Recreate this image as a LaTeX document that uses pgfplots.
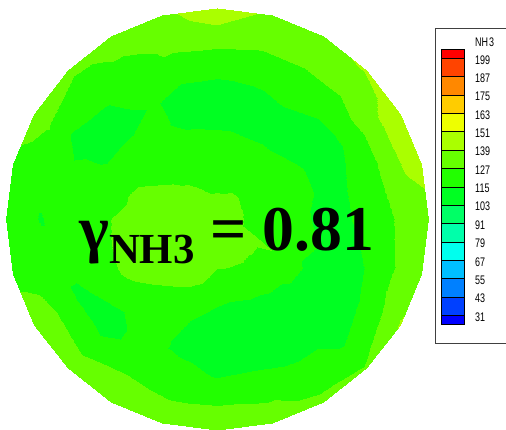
\documentclass[border=0pt]{standalone}
\usepackage{pgfplots}
\usepackage{pgfplotstable}
\pgfplotsset{compat=1.18}
\usepackage{fontspec}
\setmainfont{Liberation Serif}
\newfontfamily\legfont{Liberation Sans}
\usepackage{graphicx}

\definecolor{c0}{RGB}{0,0,255}
\definecolor{c1}{RGB}{0,64,255}
\definecolor{c2}{RGB}{0,128,255}
\definecolor{c3}{RGB}{0,191,255}
\definecolor{c4}{RGB}{0,255,238}
\definecolor{c5}{RGB}{0,255,170}
\definecolor{c6}{RGB}{0,255,102}
\definecolor{c7}{RGB}{0,255,34}
\definecolor{c8}{RGB}{34,255,0}
\definecolor{c9}{RGB}{102,255,0}
\definecolor{c10}{RGB}{170,255,0}
\definecolor{c11}{RGB}{238,255,0}
\definecolor{c12}{RGB}{255,204,0}
\definecolor{c13}{RGB}{255,136,0}
\definecolor{c14}{RGB}{255,68,0}
\definecolor{c15}{RGB}{255,0,0}

% polar grid: r (fraction of radius), t (angle, deg), v (NH3 value)
\pgfplotstableread{
r t v
0 0 132
0.2 0 124
0.35 0 120
0.5 0 112
0.62 0 114
0.74 0 122
0.84 0 127
0.92 0 131
1.0 0 134
0 15 132
0.2 15 124
0.35 15 120
0.5 15 114
0.62 15 114
0.74 15 121
0.84 15 131
0.92 15 140
1.0 15 143
0 30 132
0.2 30 124
0.35 30 120
0.5 30 114
0.62 30 111
0.74 30 118
0.84 30 132
0.92 30 141
1.0 30 145
0 45 132
0.2 45 125
0.35 45 119
0.5 45 111
0.62 45 111
0.74 45 120
0.84 45 128
0.92 45 133
1.0 45 140
0 60 132
0.2 60 125
0.35 60 118
0.5 60 111
0.62 60 115
0.74 60 120
0.84 60 128
0.92 60 133
1.0 60 137
0 75 132
0.2 75 124
0.35 75 118
0.5 75 111
0.62 75 113
0.74 75 120
0.84 75 128
0.92 75 134
1.0 75 137
0 90 132
0.2 90 124
0.35 90 119
0.5 90 111
0.62 90 112
0.74 90 120
0.84 90 130
0.92 90 139
1.0 90 145
0 105 132
0.2 105 124
0.35 105 120
0.5 105 112
0.62 105 112
0.74 105 120
0.84 105 129
0.92 105 134
1.0 105 137
0 120 132
0.2 120 126
0.35 120 121
0.5 120 116
0.62 120 116
0.74 120 121
0.84 120 123
0.92 120 129
1.0 120 133
0 135 132
0.2 135 128
0.35 135 121
0.5 135 119
0.62 135 111
0.74 135 114
0.84 135 121
0.92 135 123
1.0 135 131
0 150 132
0.2 150 132
0.35 150 126
0.5 150 121
0.62 150 112
0.74 150 111
0.84 150 117
0.92 150 128
1.0 150 132
0 165 132
0.2 165 133
0.35 165 131
0.5 165 124
0.62 165 121
0.74 165 119
0.84 165 121
0.92 165 122
1.0 165 124
0 180 132
0.2 180 134
0.35 180 131
0.5 180 127
0.62 180 121
0.74 180 120
0.84 180 114
0.92 180 121
1.0 180 124
0 195 132
0.2 195 134
0.35 195 132
0.5 195 128
0.62 195 121
0.74 195 120
0.84 195 121
0.92 195 122
1.0 195 124
0 210 132
0.2 210 134
0.35 210 132
0.5 210 129
0.62 210 120
0.74 210 112
0.84 210 123
0.92 210 131
1.0 210 133
0 225 132
0.2 225 133
0.35 225 131
0.5 225 124
0.62 225 115
0.74 225 111
0.84 225 120
0.92 225 128
1.0 225 133
0 240 132
0.2 240 132
0.35 240 128
0.5 240 121
0.62 240 120
0.74 240 121
0.84 240 126
0.92 240 132
1.0 240 134
0 255 132
0.2 255 131
0.35 255 126
0.5 255 115
0.62 255 112
0.74 255 118
0.84 255 123
0.92 255 130
1.0 255 134
0 270 132
0.2 270 130
0.35 270 118
0.5 270 111
0.62 270 110
0.74 270 114
0.84 270 122
0.92 270 131
1.0 270 138
0 285 132
0.2 285 130
0.35 285 117
0.5 285 111
0.62 285 110
0.74 285 115
0.84 285 121
0.92 285 129
1.0 285 134
0 300 132
0.2 300 130
0.35 300 118
0.5 300 111
0.62 300 110
0.74 300 112
0.84 300 120
0.92 300 123
1.0 300 131
0 315 132
0.2 315 129
0.35 315 120
0.5 315 111
0.62 315 110
0.74 315 111
0.84 315 114
0.92 315 121
1.0 315 128
0 330 132
0.2 330 129
0.35 330 126
0.5 330 112
0.62 330 111
0.74 330 112
0.84 330 120
0.92 330 129
1.0 330 140
0 345 132
0.2 345 124
0.35 345 121
0.5 345 115
0.62 345 112
0.74 345 116
0.84 345 125
0.92 345 130
1.0 345 134
0 360 132
0.2 360 124
0.35 360 120
0.5 360 112
0.62 360 114
0.74 360 122
0.84 360 127
0.92 360 131
1.0 360 134
}\disk

\begin{document}
\begin{tikzpicture}
\begin{axis}[
  width=506bp, height=430bp, scale only axis,
  xmin=0, xmax=506, ymin=0, ymax=430,
  hide axis, clip=false,
  colormap={tec}{rgb255(0cm)=(0,0,255) rgb255(1cm)=(0,64,255) rgb255(2cm)=(0,128,255)
    rgb255(3cm)=(0,191,255) rgb255(4cm)=(0,255,238) rgb255(5cm)=(0,255,170)
    rgb255(6cm)=(0,255,102) rgb255(7cm)=(0,255,34) rgb255(8cm)=(34,255,0)
    rgb255(9cm)=(102,255,0) rgb255(10cm)=(170,255,0) rgb255(11cm)=(238,255,0)
    rgb255(12cm)=(255,204,0) rgb255(13cm)=(255,136,0) rgb255(14cm)=(255,68,0)
    rgb255(15cm)=(255,0,0) rgb255(16cm)=(255,0,0)},
  colormap access=piecewise constant,
  point meta min=19, point meta max=211,
]
\addplot[surf, shader=interp, mesh/rows=25, mesh/cols=9, point meta=explicit]
  table[x expr={217+211*\thisrow{r}*cos(\thisrow{t})},
        y expr={211+211*\thisrow{r}*sin(\thisrow{t})}, meta=v] {\disk};

% legend frame
\addplot[draw=black!75, line width=0.8pt, mark=none] coordinates {(512,401.7) (435.5,401.7) (435.5,86.7) (512,86.7)};
% legend swatches
\addplot[fill=c15, draw=black, line width=0.6pt, mark=none] coordinates {(441,371.7) (464,371.7) (464,380.7) (441,380.7)} --cycle;
\addplot[fill=c14, draw=black, line width=0.6pt, mark=none] coordinates {(441,353.34) (464,353.34) (464,371.7) (441,371.7)} --cycle;
\addplot[fill=c13, draw=black, line width=0.6pt, mark=none] coordinates {(441,334.98) (464,334.98) (464,353.34) (441,353.34)} --cycle;
\addplot[fill=c12, draw=black, line width=0.6pt, mark=none] coordinates {(441,316.62) (464,316.62) (464,334.98) (441,334.98)} --cycle;
\addplot[fill=c11, draw=black, line width=0.6pt, mark=none] coordinates {(441,298.26) (464,298.26) (464,316.62) (441,316.62)} --cycle;
\addplot[fill=c10, draw=black, line width=0.6pt, mark=none] coordinates {(441,279.9) (464,279.9) (464,298.26) (441,298.26)} --cycle;
\addplot[fill=c9, draw=black, line width=0.6pt, mark=none] coordinates {(441,261.54) (464,261.54) (464,279.9) (441,279.9)} --cycle;
\addplot[fill=c8, draw=black, line width=0.6pt, mark=none] coordinates {(441,243.18) (464,243.18) (464,261.54) (441,261.54)} --cycle;
\addplot[fill=c7, draw=black, line width=0.6pt, mark=none] coordinates {(441,224.82) (464,224.82) (464,243.18) (441,243.18)} --cycle;
\addplot[fill=c6, draw=black, line width=0.6pt, mark=none] coordinates {(441,206.46) (464,206.46) (464,224.82) (441,224.82)} --cycle;
\addplot[fill=c5, draw=black, line width=0.6pt, mark=none] coordinates {(441,188.1) (464,188.1) (464,206.46) (441,206.46)} --cycle;
\addplot[fill=c4, draw=black, line width=0.6pt, mark=none] coordinates {(441,169.74) (464,169.74) (464,188.1) (441,188.1)} --cycle;
\addplot[fill=c3, draw=black, line width=0.6pt, mark=none] coordinates {(441,151.38) (464,151.38) (464,169.74) (441,169.74)} --cycle;
\addplot[fill=c2, draw=black, line width=0.6pt, mark=none] coordinates {(441,133.02) (464,133.02) (464,151.38) (441,151.38)} --cycle;
\addplot[fill=c1, draw=black, line width=0.6pt, mark=none] coordinates {(441,114.66) (464,114.66) (464,133.02) (441,133.02)} --cycle;
\addplot[fill=c0, draw=black, line width=0.6pt, mark=none] coordinates {(441,105.7) (464,105.7) (464,114.66) (441,114.66)} --cycle;

% legend labels
\begin{scope}[every node/.style={anchor=west, inner sep=0pt, font=\legfont\fontsize{12.5}{12.5}\selectfont}]
\node at (axis cs:475,387.3) {\scalebox{0.72}[1]{NH\kern1.2pt3}};
\node at (axis cs:475,370.2) {\scalebox{0.72}[1]{199}};
\node at (axis cs:475,351.8) {\scalebox{0.72}[1]{187}};
\node at (axis cs:475,333.5) {\scalebox{0.72}[1]{175}};
\node at (axis cs:475,315.1) {\scalebox{0.72}[1]{163}};
\node at (axis cs:475,296.8) {\scalebox{0.72}[1]{151}};
\node at (axis cs:475,278.4) {\scalebox{0.72}[1]{139}};
\node at (axis cs:475,260.0) {\scalebox{0.72}[1]{127}};
\node at (axis cs:475,241.7) {\scalebox{0.72}[1]{115}};
\node at (axis cs:475,223.3) {\scalebox{0.72}[1]{103}};
\node at (axis cs:475,205.0) {\scalebox{0.72}[1]{91}};
\node at (axis cs:475,186.6) {\scalebox{0.72}[1]{79}};
\node at (axis cs:475,168.2) {\scalebox{0.72}[1]{67}};
\node at (axis cs:475,149.9) {\scalebox{0.72}[1]{55}};
\node at (axis cs:475,131.5) {\scalebox{0.72}[1]{43}};
\node at (axis cs:475,113.2) {\scalebox{0.72}[1]{31}};
\end{scope}

% annotation
\node[anchor=base west, inner sep=0pt] at (axis cs:79,180)
  {\bfseries\fontsize{64}{64}\selectfont γ\raisebox{-13bp}{\fontsize{43}{43}\selectfont NH3} = 0.81};
\end{axis}
\pgfresetboundingbox
\useasboundingbox (current axis.south west) rectangle (current axis.north east);
\end{tikzpicture}
\end{document}
